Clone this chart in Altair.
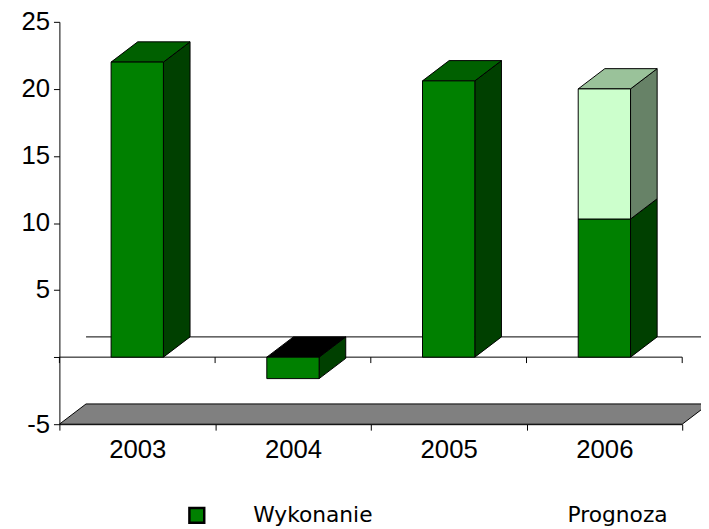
import altair as alt
import pandas as pd

# ---- data ----
years = [2003, 2004, 2005, 2006]
wykonanie = [22.0, -1.6, 20.6, 10.3]
prognoza = [0.0, 0.0, 0.0, 9.7]
series_names = ["Wykonanie", "Prognoza"]
y_ticks = [-5, 0, 5, 10, 15, 20, 25]

# ---- 3D geometry (in data units) ----
HALF = 0.168   # half bar width in years
DX = 0.171     # depth offset in years
DY = 1.51      # depth offset in value units
Y_MIN, Y_MAX = y_ticks[0], y_ticks[-1]
X_MIN, X_MAX = years[0] - 0.5, years[-1] + 0.5
W, H = 630, 407
TICK = 6 * (Y_MAX - Y_MIN) / H

rows = []
sid = 0
for yr, w, p in zip(years, wykonanie, prognoza):
    segs = [("Wykonanie", 0.0, w)]
    if p:
        segs.append(("Prognoza", w, w + p))
    for i, (s, a, b) in enumerate(segs):
        for k in (0, 1):
            rows.append(dict(year=yr, series=s, y0=a, y1=b, k=k, seg=sid,
                             top=(i == len(segs) - 1)))
        sid += 1
seg_df = pd.DataFrame(rows)

bounds = [X_MIN + i for i in range(len(years) + 1)]

xs = alt.Scale(domain=[X_MIN, X_MAX], nice=False, zero=False)
ys = alt.Scale(domain=[Y_MIN, Y_MAX], nice=False, zero=False)
xax = alt.Axis(values=bounds,
               labelExpr=f"datum.value > {years[-1]} ? '' : format(datum.value + 0.5, 'd')",
               labelOffset=W / len(years) / 2, tickSize=6, labelPadding=7,
               domainColor="black", tickColor="black", labelColor="black",
               labelFont="Liberation Sans", labelFontSize=26, grid=False, title=None,
               labelFlush=False, labelOverlap=False, labelBound=False)
yax = alt.Axis(values=y_ticks, labelExpr="datum.value == 0 ? '' : '' + datum.value",
               tickSize=6, labelPadding=4, domainColor="black", tickColor="black",
               labelColor="black", labelFont="Liberation Sans", labelFontSize=26,
               grid=False, title=None, labelOverlap=False)

def X(f):
    return alt.X(f, scale=xs, axis=xax)

def Y(f):
    return alt.Y(f, scale=ys, axis=yax)

# floor
floor_df = pd.DataFrame({"k": [0, 1]})
floor = alt.Chart(floor_df).transform_calculate(
    fy=f"{Y_MIN} + datum.k * {DY}",
    fx=f"{X_MIN} + datum.k * {DX}",
    fx2=f"{X_MAX} + datum.k * {DX}",
).mark_area(orient="horizontal", fill="#808080", stroke="black", strokeWidth=1).encode(
    y=Y("fy:Q"), x=X("fx:Q"), x2="fx2:Q"
)

line_df = pd.DataFrame({"k": [0, 1]})
zero_lines = alt.Chart(line_df).transform_calculate(
    ly=f"datum.k * {DY}",
    lx=f"{X_MIN} + datum.k * {DX}",
    lx2=f"{X_MAX} + datum.k * {DX}",
).mark_rule(color="black", strokeWidth=1).encode(
    y=Y("ly:Q"), x=X("lx:Q"), x2="lx2:Q"
)

tick_df = pd.DataFrame({"b": bounds})
zero_ticks = alt.Chart(tick_df).transform_calculate(
    t0="0", t1=f"-{TICK}"
).mark_rule(color="black", strokeWidth=1).encode(
    x=X("b:Q"), y=Y("t0:Q"), y2="t1:Q"
)

base = alt.Chart(seg_df).transform_calculate(
    lo="min(datum.y0, datum.y1)",
    hi="max(datum.y0, datum.y1)",
).transform_calculate(
    xl=f"datum.year - {HALF} + datum.k * {DX}",
    xr=f"datum.year + {HALF} + datum.k * {DX}",
    yt=f"datum.hi + datum.k * {DY}",
    yb=f"datum.lo + datum.k * {DY}",
)

side = base.transform_calculate(
    sx=f"datum.year + {HALF} + datum.k * {DX}",
    fc="datum.series == 'Prognoza' ? '#678267' : '#004000'",
).mark_area(orient="vertical", stroke="black", strokeWidth=1).encode(
    x=X("sx:Q"), y=Y("yt:Q"), y2="yb:Q",
    fill=alt.Fill("fc:N", scale=None), detail="seg:N",
)

top = base.transform_filter("datum.top").transform_calculate(
    fc="datum.y1 < datum.y0 ? '#000000' : (datum.series == 'Prognoza' ? '#9AC29A' : '#006000')",
).mark_area(orient="horizontal", stroke="black", strokeWidth=1).encode(
    y=Y("yt:Q"), x=X("xl:Q"), x2="xr:Q",
    fill=alt.Fill("fc:N", scale=None), detail="seg:N",
)

front = base.transform_filter("datum.k == 0").transform_calculate(
    fc="datum.series == 'Prognoza' ? '#CCFFCC' : '#008000'",
).mark_rect(stroke="black", strokeWidth=1).encode(
    x=X("xl:Q"), x2="xr:Q", y=Y("lo:Q"), y2="hi:Q",
    fill=alt.Fill("fc:N", scale=None),
)

leg = alt.Legend(orient="none", legendX=128, legendY=488, direction="horizontal",
                 title=None, symbolType="square", symbolSize=225,
                 symbolStrokeWidth=2.5, symbolOpacity=1, labelOffset=46,
                 columnPadding=127, labelFont="DejaVu Sans", labelFontSize=22,
                 labelColor="black", labelLimit=400, padding=0)
legend_df = pd.DataFrame({"series": series_names})
legend_layer = alt.Chart(legend_df).mark_square(opacity=0).encode(
    fill=alt.Fill("series:N", scale=alt.Scale(domain=series_names,
                                               range=["#008000", "transparent"]), legend=leg),
    stroke=alt.Stroke("series:N", scale=alt.Scale(domain=series_names,
                                                   range=["black", "transparent"]), legend=leg),
)

chart = alt.layer(floor, zero_lines, zero_ticks, side, top, front, legend_layer).properties(
    width=W, height=H,
    padding={"left": 52, "top": 11, "right": 19, "bottom": 103},
    autosize="none", background="white",
).configure_view(stroke=None)

chart.save("out.html", embed_options={"renderer": "svg", "actions": False})
